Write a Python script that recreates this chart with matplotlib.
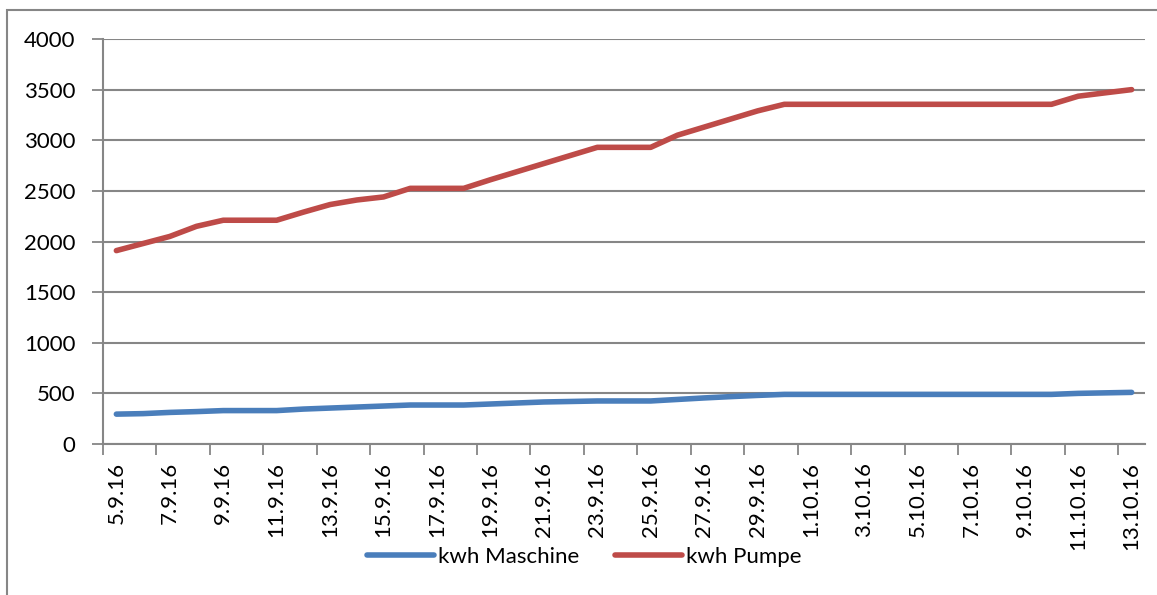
import matplotlib.pyplot as plt
from matplotlib.patches import Rectangle

DATES = [
    "5.9.16", "6.9.16", "7.9.16", "8.9.16", "9.9.16", "10.9.16", "11.9.16",
    "12.9.16", "13.9.16", "14.9.16", "15.9.16", "16.9.16", "17.9.16", "18.9.16",
    "19.9.16", "20.9.16", "21.9.16", "22.9.16", "23.9.16", "24.9.16", "25.9.16",
    "26.9.16", "27.9.16", "28.9.16", "29.9.16", "30.9.16", "1.10.16", "2.10.16",
    "3.10.16", "4.10.16", "5.10.16", "6.10.16", "7.10.16", "8.10.16", "9.10.16",
    "10.10.16", "11.10.16", "12.10.16", "13.10.16",
]
KWH_MASCHINE = [
    295, 300, 312, 320, 330, 330, 330, 345, 355, 365, 375, 385, 385, 385,
    395, 405, 415, 420, 425, 425, 425, 440, 455, 468, 480, 490, 490, 490,
    490, 490, 490, 490, 490, 490, 490, 490, 500, 505, 510,
]
KWH_PUMPE = [
    1910, 1980, 2050, 2150, 2210, 2210, 2210, 2290, 2365, 2410, 2440, 2525, 2525, 2525,
    2610, 2690, 2770, 2850, 2930, 2930, 2930, 3050, 3130, 3210, 3290, 3355, 3355, 3355,
    3355, 3355, 3355, 3355, 3355, 3355, 3355, 3355, 3435, 3468, 3500,
]
Y_TICKS = [0, 500, 1000, 1500, 2000, 2500, 3000, 3500, 4000]

plt.rcParams["font.family"] = ["Lato", "DejaVu Sans"]
plt.rcParams["font.size"] = 16

GRID = "#868686"

fig = plt.figure(figsize=(11.57, 5.95), dpi=100)
ax = fig.add_axes([103 / 1157, 1 - 444 / 595, 1042 / 1157, 405 / 595])

x = list(range(len(DATES)))
ax.plot(x, KWH_MASCHINE, color="#4A7EBB", linewidth=4.0, solid_capstyle="round",
        label="kwh Maschine")
ax.plot(x, KWH_PUMPE, color="#BE4B48", linewidth=4.0, solid_capstyle="round",
        label="kwh Pumpe")

ax.set_xlim(-0.5, len(DATES) - 0.5)
ax.set_ylim(0, 4000)
ax.set_yticks(Y_TICKS)
ax.yaxis.grid(True, color=GRID, linewidth=1.5)
ax.set_axisbelow(True)

# tick marks on category boundaries, labels on every second category
ax.set_xticks([i - 0.5 for i in range(0, len(DATES), 2)])
ax.set_xticklabels([])
ax.set_xticks(list(range(0, len(DATES), 2)), minor=True)
ax.set_xticklabels(DATES[::2], minor=True, rotation=90)
ax.tick_params(axis="x", which="major", length=8, width=1.3, color=GRID, direction="out")
ax.tick_params(axis="x", which="minor", length=0, pad=13)
ax.tick_params(axis="y", length=8, width=1.3, color=GRID, pad=12)

for side in ("top", "right"):
    ax.spines[side].set_visible(False)
for side in ("left", "bottom"):
    ax.spines[side].set_color(GRID)
    ax.spines[side].set_linewidth(1.5)

fig.legend(loc="center", bbox_to_anchor=(0.505, 1 - 557 / 595), ncol=2, frameon=False,
           handlelength=3.0, handletextpad=0.2, columnspacing=1.6, borderpad=0)

fig.add_artist(Rectangle((7 / 1157, -0.05), 1.1, 1 - 10 / 595 + 0.05, transform=fig.transFigure,
                         fill=False, edgecolor=GRID, linewidth=1.5))

fig.savefig("out.png", dpi=100)
